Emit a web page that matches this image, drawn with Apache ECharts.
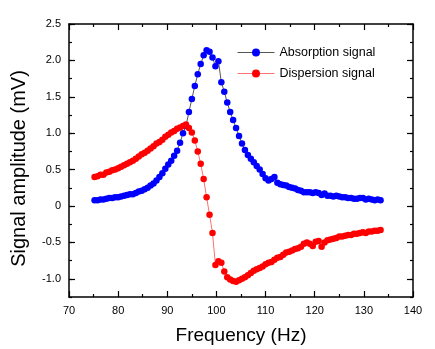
<!DOCTYPE html>
<html lang="en">
<head>
	<meta charset="utf-8">
	<title>Signal amplitude</title>
	<script src="https://cdn.jsdelivr.net/npm/echarts@6/dist/echarts.min.js"></script>
	<style type="text/css">
		html, body {margin:0;padding:0;background:#fff}
		#chart {width:435px;height:349px}
	</style>
</head>
<body>
	<div id="chart"></div>
	<script>
		// frequency (Hz)
		var frequency = [75.2, 75.8, 76.4, 77.0, 77.6, 78.2, 78.8, 79.4, 80.0, 80.6,
			81.2, 81.8, 82.4, 83.0, 83.6, 84.2, 84.8, 85.4, 86.0, 86.6,
			87.2, 87.8, 88.4, 89.0, 89.6, 90.2, 90.8, 91.4, 92.0, 92.6,
			93.2, 93.8, 94.4, 95.0, 95.6, 96.2, 96.8, 97.4, 98.0, 98.6,
			99.2, 99.8, 100.4, 101.0, 101.6, 102.2, 102.8, 103.4, 104.0, 104.6,
			105.2, 105.8, 106.4, 107.0, 107.6, 108.2, 108.8, 109.4, 110.0, 110.6,
			111.2, 111.8, 112.4, 113.0, 113.6, 114.2, 114.8, 115.4, 116.0, 116.6,
			117.2, 117.8, 118.4, 119.0, 119.6, 120.2, 120.8, 121.4, 122.0, 122.6,
			123.2, 123.8, 124.4, 125.0, 125.6, 126.2, 126.8, 127.4, 128.0, 128.6,
			129.2, 129.8, 130.4, 131.0, 131.6, 132.2, 132.8, 133.4];
		// absorption signal (mV)
		var absorption = [0.08, 0.08, 0.09, 0.09, 0.10, 0.11, 0.11, 0.12, 0.12, 0.13,
			0.14, 0.15, 0.16, 0.16, 0.18, 0.20, 0.21, 0.23, 0.25, 0.28,
			0.31, 0.35, 0.40, 0.45, 0.51, 0.57, 0.62, 0.69, 0.76, 0.87,
			1.00, 1.10, 1.29, 1.47, 1.65, 1.81, 1.95, 2.07, 2.14, 2.12,
			2.04, 1.92, 1.99, 1.70, 1.57, 1.42, 1.29, 1.18, 1.07, 0.96,
			0.86, 0.77, 0.70, 0.65, 0.60, 0.55, 0.50, 0.44, 0.38, 0.35,
			0.37, 0.40, 0.32, 0.30, 0.29, 0.28, 0.26, 0.25, 0.24, 0.22,
			0.21, 0.19, 0.19, 0.19, 0.18, 0.19, 0.18, 0.15, 0.17, 0.14,
			0.14, 0.13, 0.14, 0.13, 0.12, 0.12, 0.11, 0.11, 0.10, 0.10,
			0.11, 0.11, 0.09, 0.10, 0.09, 0.08, 0.09, 0.08];
		// dispersion signal (mV)
		var dispersion = [0.40, 0.41, 0.43, 0.43, 0.46, 0.47, 0.49, 0.50, 0.52, 0.54,
			0.56, 0.58, 0.60, 0.62, 0.65, 0.68, 0.71, 0.73, 0.76, 0.79,
			0.82, 0.86, 0.88, 0.91, 0.95, 0.98, 1.01, 1.03, 1.06, 1.08,
			1.10, 1.12, 1.07, 1.01, 0.90, 0.75, 0.58, 0.37, 0.12, -0.12,
			-0.37, -0.81, -0.76, -0.78, -0.90, -0.98, -1.01, -1.03, -1.04, -1.02,
			-1.00, -0.98, -0.95, -0.92, -0.89, -0.87, -0.85, -0.83, -0.80, -0.78,
			-0.77, -0.74, -0.71, -0.70, -0.67, -0.64, -0.63, -0.61, -0.59, -0.58,
			-0.56, -0.52, -0.50, -0.52, -0.55, -0.49, -0.48, -0.56, -0.50, -0.47,
			-0.46, -0.45, -0.44, -0.42, -0.42, -0.41, -0.40, -0.40, -0.38, -0.38,
			-0.37, -0.36, -0.37, -0.35, -0.35, -0.34, -0.34, -0.33];
		var yLabels = [-1, -0.5, 0, 0.5, 1, 1.5, 2, 2.5];

		function pairs(ys) {
			var out = [];
			for (var i = 0; i < frequency.length; i++) out.push([frequency[i], ys[i]]);
			return out;
		}

		var font = "Liberation Sans";
		var frame = {show: true, onZero: false, lineStyle: {color: "#000", width: 1.5}};

		function yAxisDef(pos, major, withLabel) {
			return {
				type: "value", position: pos, min: -1.25, max: 2.5, interval: 0.25,
				axisLine: major ? frame : {show: false, onZero: false},
				axisTick: major
					? {show: true, inside: true, length: 6, customValues: yLabels, lineStyle: {color: "#000", width: 1.2}}
					: {show: true, inside: true, length: 3, lineStyle: {color: "#000", width: 1.2}},
				axisLabel: withLabel
					? {show: true, customValues: yLabels, margin: 8, color: "#000", fontSize: 11, fontFamily: font,
						formatter: function (v) { return v === 0 ? "0" : v.toFixed(1); }}
					: {show: false},
				splitLine: {show: false}
			};
		}

		var yMain = yAxisDef("left", true, true);
		yMain.name = "Signal amplitude (mV)";
		yMain.nameLocation = "middle";
		yMain.nameGap = 40;
		yMain.nameTextStyle = {fontSize: 20, fontFamily: font, color: "#000", padding: [0, 16, 0, 0]};

		var myChart = echarts.init(document.getElementById("chart"));
		var option = {
			animation: false,
			grid: {left: 69, right: 22, top: 24, bottom: 52, containLabel: false, outerBoundsMode: "none"},
			legend: {
				orient: "vertical", left: 232, top: 41, itemGap: 8,
				itemWidth: 37, itemHeight: 10,
				lineStyle: {width: 1},
				textStyle: {fontSize: 12.5, fontFamily: font, color: "#000"},
				data: ["Absorption signal", "Dispersion signal"]
			},
			xAxis: [
				{
					type: "value", position: "bottom", min: 70, max: 140, interval: 10,
					name: "Frequency (Hz)", nameLocation: "middle", nameGap: 29,
					nameTextStyle: {fontSize: 19, fontFamily: font, color: "#000"},
					axisLine: frame,
					axisTick: {show: true, inside: true, length: 6, lineStyle: {color: "#000", width: 1.2}},
					minorTick: {show: true, splitNumber: 2, length: 3, lineStyle: {color: "#000", width: 1.2}},
					axisLabel: {margin: 8, color: "#000", fontSize: 11, fontFamily: font},
					splitLine: {show: false}
				},
				{
					type: "value", position: "top", min: 70, max: 140, interval: 10,
					axisLine: frame,
					axisTick: {show: true, inside: true, length: 6, lineStyle: {color: "#000", width: 1.2}},
					minorTick: {show: true, splitNumber: 2, length: 3, lineStyle: {color: "#000", width: 1.2}},
					axisLabel: {show: false},
					splitLine: {show: false}
				}
			],
			yAxis: [
				yMain,
				yAxisDef("left", false, false),
				yAxisDef("right", true, false),
				yAxisDef("right", false, false)
			],
			series: [
				{
					name: "Absorption signal", type: "line", data: pairs(absorption),
					symbol: "circle", symbolSize: 6.5,
					itemStyle: {color: "#0000ff"},
					lineStyle: {color: "#555555", width: 1}
				},
				{
					name: "Dispersion signal", type: "line", data: pairs(dispersion),
					symbol: "circle", symbolSize: 6.5,
					itemStyle: {color: "#ff0000"},
					lineStyle: {color: "#ff7070", width: 1}
				}
			]
		};
		myChart.setOption(option);
	</script>
</body>
</html>
